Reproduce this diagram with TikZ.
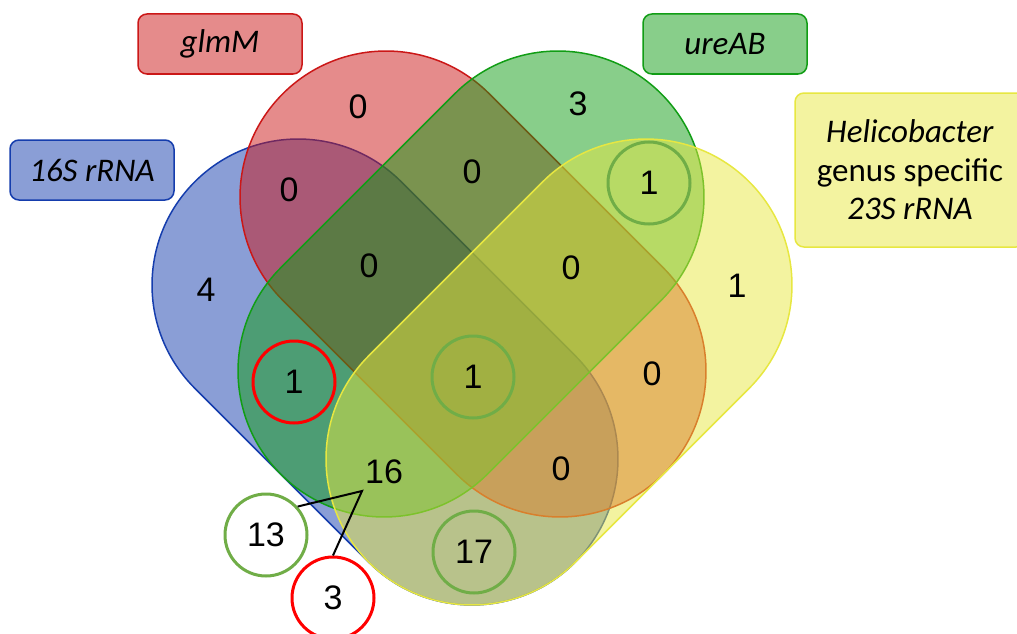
\documentclass[tikz,border=0pt]{standalone}
\usepackage{fontspec}
\setmainfont{Liberation Sans}
\newfontfamily\calibri{Carlito}
\usetikzlibrary{shapes.misc}

\definecolor{vblue}{RGB}{21,61,173}
\definecolor{vred}{RGB}{203,23,23}
\definecolor{vgreen}{RGB}{17,157,21}
\definecolor{vyellow}{RGB}{231,231,65}
\definecolor{ringgreen}{RGB}{112,173,71}

\tikzset{
  venn/.style={rounded rectangle, minimum width=538pt, minimum height=292pt,
    inner sep=0pt, outer sep=0pt, fill opacity=0.5, line width=1.5pt},
  setlabel/.style={rounded corners=9pt, line width=1.5pt, fill opacity=0.5, text opacity=1,
    minimum width=164pt, minimum height=60pt, align=center,
    font=\calibri\fontsize{33}{38.5}\selectfont},
  count/.style={font=\fontsize{34}{38}\selectfont, inner sep=0pt},
  ring/.style={circle, line width=3pt, minimum size=82pt, inner sep=0pt},
}

\begin{document}
\begin{tikzpicture}[x=1pt, y=-1pt]
  \useasboundingbox (0,0) rectangle (1017,634);
  \clip (0,0) rectangle (1017,634);

  % the four sets, drawn in this order
  \node[venn, rotate=-45, fill=vblue, draw=vblue] (set16S) at (385,372) {};
  \node[venn, rotate=-45, fill=vred, draw=vred] (setglmM) at (473,284) {};
  \node[venn, rotate=45, fill=vgreen, draw=vgreen] (setureAB) at (471,284) {};
  \node[venn, rotate=45, fill=vyellow, draw=vyellow] (setheli) at (559,372) {};

  % set names
  \node[setlabel, fill=vred, draw=vred] (lblglmM) at (220,44) {\textit{glmM}};
  \node[setlabel, fill=vblue, draw=vblue] (lbl16S) at (92,170) {\textit{16S rRNA}};
  \node[setlabel, fill=vgreen, draw=vgreen] (lblureAB) at (725,44) {\textit{ureAB}};
  \node[setlabel, fill=vyellow, draw=vyellow, minimum width=230pt, minimum height=154pt]
    (lblheli) at (910,170) {\textit{Helicobacter}\\genus specific\\\textit{23S rRNA}};

  % plain counts
  \foreach \x/\y/\v [count=\i] in {358/107/0, 289/190/0, 472/172/0, 578/104/3,
      206/290/4, 369/266/0, 571/268/0, 737/286/1, 652/374/0, 384/472/16, 561/469/0}
    \node[count] (n\i) at (\x,\y) {\v};

  % circled counts
  \node[count, ring, draw=ringgreen] (nUreHeli) at (649,183) {1};
  \node[count, ring, draw=red] (n16SUre) at (294,382) {1};
  \node[count, ring, draw=ringgreen] (nAll) at (473,377) {1};
  \node[count, ring, draw=ringgreen] (n16SHeli) at (474,552) {17};

  % split of the 16
  \node[count, ring, draw=ringgreen, fill=white] (nSplitA) at (266,535) {13};
  \node[count, ring, draw=red, fill=white] (nSplitB) at (333,598) {3};
  \coordinate (split) at (362,491);
  \draw[line width=2pt] (nSplitA.42) -- (split) -- (nSplitB.north);
\end{tikzpicture}
\end{document}
